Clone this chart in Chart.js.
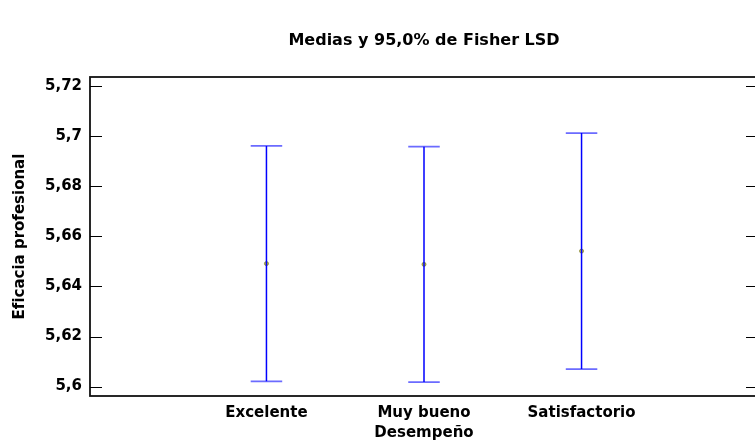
<!DOCTYPE html>
<html lang="es">
<head>
<meta charset="UTF-8">
<title>Medias y 95,0% de Fisher LSD</title>
<script src="https://cdn.jsdelivr.net/npm/chart.js"></script>
<style>
  html, body { margin: 0; padding: 0; overflow: hidden; background: #fff; }
  #caja { width: 770px; height: 443px; }
</style>
</head>
<body>
<div id="caja"><canvas id="grafico" width="770" height="443"></canvas></div>
<script>
// datos
const categorias = ["Excelente", "Muy bueno", "Satisfactorio"];
const medias = [5.6491, 5.6488, 5.6541];
const limiteInferior = [5.6021, 5.6018, 5.6070];
const limiteSuperior = [5.6961, 5.6958, 5.7012];
const ticksY = [5.6, 5.62, 5.64, 5.66, 5.68, 5.7, 5.72];
const etiquetasY = ["5,6", "5,62", "5,64", "5,66", "5,68", "5,7", "5,72"];

const fuente = "'DejaVu Sans', sans-serif";
const anchoTope = 0.1; // medio ancho del tope, en unidades del eje x

// segmentos de los intervalos (vertical y topes), cortados con null
let segmentosV = [];
let segmentosT = [];
for (let i = 0; i < categorias.length; i++) {
  let x = i + 1;
  segmentosV.push({ x: x, y: limiteInferior[i] }, { x: x, y: limiteSuperior[i] }, { x: x, y: null });
  segmentosT.push({ x: x - anchoTope, y: limiteSuperior[i] }, { x: x + anchoTope, y: limiteSuperior[i] }, { x: x, y: null });
  segmentosT.push({ x: x - anchoTope, y: limiteInferior[i] }, { x: x + anchoTope, y: limiteInferior[i] }, { x: x, y: null });
}
let puntosMedia = medias.map(function (m, i) { return { x: i + 1, y: m }; });

// marco, marcas hacia adentro y titulo
const marco = {
  id: "marco",
  afterDraw(chart) {
    const { ctx, chartArea: a, scales } = chart;
    ctx.save();
    ctx.strokeStyle = "#111";
    ctx.lineWidth = 1.8;
    ctx.strokeRect(a.left, a.top, a.right - a.left, a.bottom - a.top);
    ctx.lineWidth = 1;
    ctx.strokeStyle = "#000";
    ticksY.forEach(function (v) {
      const y = Math.round(scales.y.getPixelForValue(v)) + 0.5;
      ctx.beginPath();
      ctx.moveTo(a.left, y);
      ctx.lineTo(a.left + 12, y);
      ctx.moveTo(a.right - 12, y);
      ctx.lineTo(a.right, y);
      ctx.stroke();
    });
    ctx.fillStyle = "#000";
    ctx.font = "bold 16px " + fuente;
    ctx.textAlign = "center";
    ctx.textBaseline = "middle";
    ctx.fillText("Medias y 95,0% de Fisher LSD", (a.left + a.right) / 2, 41);
    ctx.restore();
  }
};

new Chart(document.getElementById("grafico"), {
  type: "scatter",
  data: {
    datasets: [
      {
        data: segmentosV,
        showLine: true,
        spanGaps: false,
        borderColor: "#0000ff",
        borderWidth: 1.5,
        pointRadius: 0,
      },
      {
        data: segmentosT,
        showLine: true,
        spanGaps: false,
        borderColor: "#6b6bff",
        borderWidth: 1.7,
        pointRadius: 0,
      },
      {
        data: puntosMedia,
        pointRadius: 2,
        pointBackgroundColor: "#c0c040",
        pointBorderColor: "#80802a",
        pointBorderWidth: 0.8,
      },
    ],
  },
  options: {
    responsive: false,
    animation: false,
    layout: { padding: { top: 77, right: 12, bottom: 0, left: 0 } },
    plugins: {
      legend: { display: false },
      tooltip: { enabled: false },
    },
    scales: {
      x: {
        type: "linear",
        min: -0.12,
        max: 4.12,
        afterFit: function (s) { s.height = 47; },
        afterBuildTicks: function (s) {
          s.ticks = categorias.map(function (c, i) { return { value: i + 1 }; });
        },
        grid: { display: false, drawTicks: false },
        border: { display: false },
        ticks: {
          padding: 8,
          color: "#000",
          font: { family: fuente, size: 15, weight: "bold" },
          callback: function (v) { return categorias[v - 1]; },
        },
        title: {
          display: true,
          text: "Desempeño",
          color: "#000",
          font: { family: fuente, size: 15, weight: "bold" },
          padding: { top: 0, bottom: 1 },
        },
      },
      y: {
        min: 5.59625,
        max: 5.7236,
        afterFit: function (s) { s.width = 90; },
        afterBuildTicks: function (s) {
          s.ticks = ticksY.map(function (v) { return { value: v }; });
        },
        grid: { display: false, drawTicks: false },
        border: { display: false },
        ticks: {
          padding: 8,
          color: "#000",
          font: { family: fuente, size: 15, weight: "bold" },
          callback: function (v, i) { return etiquetasY[i]; },
        },
        title: {
          display: true,
          text: "Eficacia profesional",
          color: "#000",
          font: { family: fuente, size: 15, weight: "bold" },
          padding: { top: 11, bottom: 0 },
        },
      },
    },
  },
  plugins: [marco],
});
</script>
</body>
</html>
